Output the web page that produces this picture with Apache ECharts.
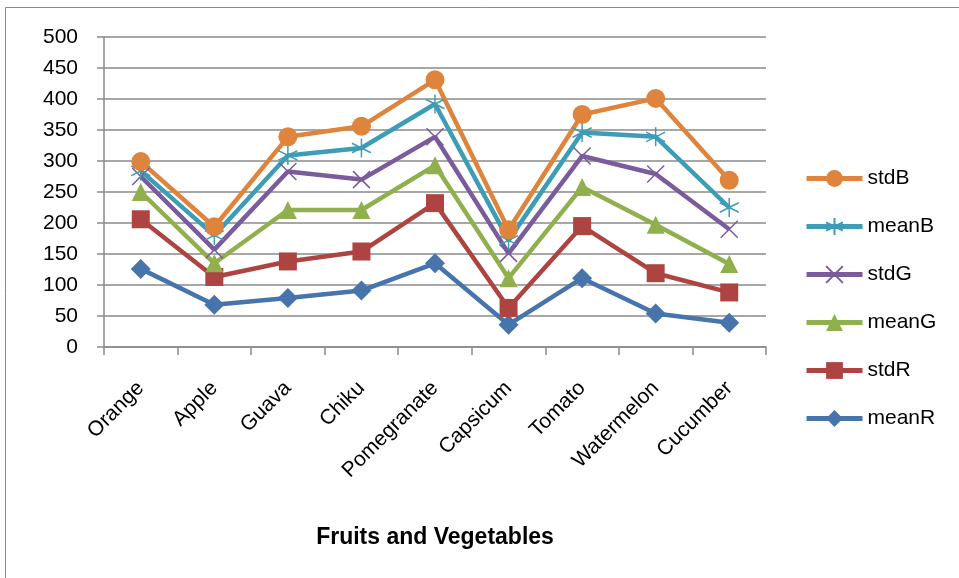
<!DOCTYPE html>
<html>
<head>
<meta charset="utf-8">
<script src="https://cdn.jsdelivr.net/npm/echarts@6/dist/echarts.min.js"></script>
<style>
  html, body { margin: 0; padding: 0; background: #fff; }
  #chart { width: 959px; height: 578px; }
</style>
</head>
<body>
<div id="chart"></div>
<script>
const categories = ['Orange', 'Apple', 'Guava', 'Chiku', 'Pomegranate', 'Capsicum', 'Tomato', 'Watermelon', 'Cucumber'];
const meanR = [126, 68, 79, 91, 135, 36, 111, 54, 39];
const stdR = [206, 113, 138, 154, 232, 63, 195, 119, 88];
const meanG = [250, 135, 221, 221, 293, 111, 258, 197, 134];
const stdG = [275, 157, 283, 270, 339, 151, 308, 279, 190];
const meanB = [284, 180, 309, 321, 392, 172, 346, 339, 225];
const stdB = [299, 194, 339, 356, 431, 189, 375, 401, 269];
const legendOrder = ['stdB', 'meanB', 'stdG', 'meanG', 'stdR', 'meanR'];

const FONT = '"Liberation Sans", Arial, sans-serif';
const asterisk = 'path://M5,0L5,10M0,2.5L10,7.5M0,7.5L10,2.5';
const cross = 'path://M0,0L10,10M10,0L0,10';

function makeSeries(name, data, color, symbol, size, stroke) {
  return {
    name: name,
    type: 'line',
    data: data,
    symbol: symbol,
    symbolSize: size,
    showAllSymbol: true,
    lineStyle: { color: color, width: 4.5 },
    itemStyle: stroke
      ? { color: 'rgba(0,0,0,0)', borderColor: color, borderWidth: 1.5 }
      : { color: color },
    emphasis: { disabled: true },
    z: 2
  };
}

const chart = echarts.init(document.getElementById('chart'));
chart.setOption({
  animation: false,
  backgroundColor: '#fff',
  graphic: [{
    type: 'rect',
    shape: { x: 5.5, y: 7.5, width: 960, height: 580 },
    style: { fill: 'none', stroke: '#8a8a8a', lineWidth: 1 },
    silent: true
  }],
  grid: { left: 104, right: 193, top: 37, bottom: 231 },
  legend: {
    data: legendOrder,
    orient: 'vertical',
    left: 799,
    top: 163,
    itemGap: 27,
    itemWidth: 56,
    itemHeight: 21,
    lineStyle: { width: 5 },
    textStyle: { fontFamily: FONT, fontSize: 21, color: '#000' }
  },
  xAxis: {
    type: 'category',
    data: categories,
    boundaryGap: true,
    name: 'Fruits and Vegetables',
    nameLocation: 'middle',
    nameGap: 179,
    nameTextStyle: { fontFamily: FONT, fontSize: 23, fontWeight: 'bold', color: '#000' },
    axisLine: { lineStyle: { color: '#8a8a8a', width: 1.5 } },
    axisTick: { show: true, length: 8, alignWithLabel: false, lineStyle: { color: '#8a8a8a', width: 1.5 } },
    axisLabel: {
      rotate: 45,
      margin: 38,
      fontFamily: FONT,
      fontSize: 21,
      color: '#000',
      interval: 0
    }
  },
  yAxis: {
    type: 'value',
    min: 0,
    max: 500,
    interval: 50,
    axisLine: { show: true, lineStyle: { color: '#8a8a8a', width: 1.5 } },
    axisTick: { show: true, length: 7, lineStyle: { color: '#8a8a8a', width: 1.5 } },
    axisLabel: { margin: 26, fontFamily: FONT, fontSize: 21, color: '#000' },
    splitLine: { lineStyle: { color: '#8a8a8a', width: 1.5 } }
  },
  series: [
    makeSeries('meanR', meanR, '#4674ab', 'diamond', 20, false),
    makeSeries('stdR', stdR, '#ad4442', 'rect', 18, false),
    makeSeries('meanG', meanG, '#8fb04d', 'triangle', 18, false),
    makeSeries('stdG', stdG, '#7a5c9c', cross, 17, true),
    makeSeries('meanB', meanB, '#3d9cb6', asterisk, 19, true),
    makeSeries('stdB', stdB, '#de843c', 'circle', 19, false)
  ]
});
</script>
</body>
</html>
